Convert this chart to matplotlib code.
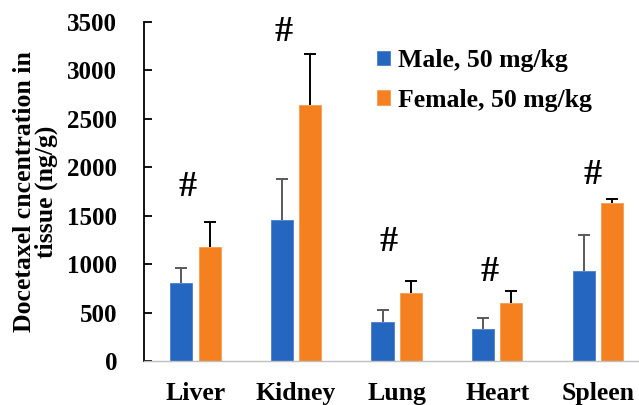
import matplotlib
matplotlib.use("Agg")
import matplotlib.pyplot as plt
import numpy as np

# Tissue distribution of docetaxel (mean with upward SD)
tissues = ["Liver", "Kidney", "Lung", "Heart", "Spleen"]
male_mean = [808, 1453, 403, 327, 932]
male_sd = [152, 429, 127, 114, 366]
female_mean = [1180, 2646, 699, 596, 1634]
female_sd = [258, 527, 127, 127, 39]
series_labels = ["Male, 50 mg/kg", "Female, 50 mg/kg"]
# significance markers: (x offset from group centre, height in ng/g)
hash_pos = [(-0.08, 1790), (-0.12, 3390), (-0.08, 1220), (-0.08, 910), (-0.05, 1920)]
yticks = [0, 500, 1000, 1500, 2000, 2500, 3000, 3500]

plt.rcParams["font.family"] = ["Liberation Serif", "DejaVu Serif"]
plt.rcParams["font.weight"] = "bold"

blue = "#2566C0"
orange = "#F5801F"

fig = plt.figure(figsize=(6.39, 4.05), dpi=100)
ax = fig.add_axes([0.2246, 0.1086, 0.7754, 0.8371])

x = np.arange(len(tissues))
w = 0.22
off = 0.14

ax.bar(x - off, male_mean, width=w, color=blue, edgecolor="#4A80CC", linewidth=0.6,
       label=series_labels[0], zorder=2)
ax.bar(x + off, female_mean, width=w, color=orange, edgecolor="#F79A50", linewidth=0.6,
       label=series_labels[1], zorder=2)

zeros = np.zeros(len(x))
for xs, means, sds, col in [(x - off, male_mean, male_sd, "#595959"),
                            (x + off, female_mean, female_sd, "black")]:
    eb = ax.errorbar(xs, means, yerr=[zeros, sds], fmt="none", ecolor=col,
                     elinewidth=1.4, capsize=4.5, capthick=1.4, zorder=3)
    # keep only the upper cap of each one-sided bar
    eb[1][0].set_visible(False)

for i, (dx, h) in enumerate(hash_pos):
    ax.text(x[i] + dx, h, "#", ha="center", va="center", fontsize=26,
            fontweight="bold", color="black")

ax.set_xlim(-0.517, 4.41)
ax.set_ylim(0, 3500)
ax.set_yticks(yticks)
ax.set_xticks(x)
ax.set_xticklabels(tissues, fontsize=18.5, fontweight="bold")
ax.tick_params(axis="x", length=0, pad=15)
ax.tick_params(axis="y", direction="in", length=6, width=1.3, pad=19,
               labelsize=18, color="black")
for lab in ax.get_yticklabels():
    lab.set_fontweight("bold")

ax.spines["top"].set_visible(False)
ax.spines["right"].set_visible(False)
ax.spines["left"].set_color("black")
ax.spines["left"].set_linewidth(1.3)
ax.spines["bottom"].set_color("#BFBFBF")
ax.spines["bottom"].set_linewidth(1.0)

ax.set_ylabel("Docetaxel cncentration in\ntissue (ng/g)", fontsize=18.5,
              fontweight="bold", linespacing=0.95)
ax.yaxis.set_label_coords(-0.172, 0.5)

leg = ax.legend(loc="upper left", bbox_to_anchor=(377 / 639, 1 - 49 / 405),
                bbox_transform=fig.transFigure, frameon=False, fontsize=18.5,
                handlelength=0.5, handleheight=0.5, handletextpad=0.3,
                labelspacing=0.65, borderpad=0, borderaxespad=0)
for t in leg.get_texts():
    t.set_fontweight("bold")

fig.savefig("out.png", dpi=100)
